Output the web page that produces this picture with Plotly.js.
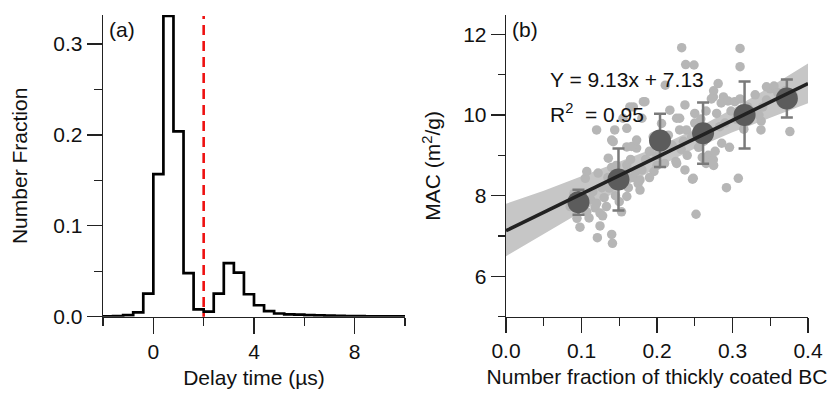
<!DOCTYPE html>
<html>
<head>
<meta charset="utf-8">
<script src="https://cdn.plot.ly/plotly-3.0.1.min.js"></script>
<style>html,body{margin:0;padding:0;background:#fff;}#chart{width:834px;height:395px;}</style>
</head>
<body>
<div id="chart"></div>
<script>
// ---------- Panel (a): delay time histogram ----------
const binEdges = [-2.0,-1.6,-1.2,-0.8,-0.4,0.0,0.4,0.8,1.2,1.6,2.0,2.4,2.8,3.2,3.6,4.0,4.4,4.8,5.2,5.6,6.0,6.4,6.8,7.2,7.6,8.0,8.4,8.8,9.2,9.6,10.0];
const binFraction = [0.0004,0.0006,0.0018,0.0048,0.0255,0.157,0.331,0.204,0.048,0.008,0.0055,0.0255,0.059,0.0486,0.0247,0.0126,0.0062,0.0035,0.0026,0.0022,0.0018,0.0014,0.0011,0.0009,0.0007,0.0006,0.0005,0.0004,0.0004,0.0003];
const thresholdX = 2.0;

// ---------- Panel (b): MAC vs number fraction ----------
const scatterX = [0.085,0.094,0.098,0.105,0.107,0.107,0.112,0.115,0.118,0.120,0.121,0.1245,0.1245,0.122,0.127,0.130,0.133,0.090,0.100,0.110,0.128,
  0.1355,0.140,0.141,0.142,0.137,0.140,0.145,0.150,0.153,0.155,0.158,0.160,0.160,0.162,0.165,0.168,0.172,0.173,0.175,0.1775,0.1775,0.180,0.120,0.140,0.144,0.155,0.160,0.160,0.164,0.1665,0.1686,0.173,0.180,0.182,0.184,0.146,0.135,
  0.185,0.190,0.195,0.196,0.200,0.204,0.206,0.210,0.211,0.215,0.217,0.220,0.225,0.226,0.226,0.230,0.230,0.232,0.2327,0.235,0.237,0.237,0.238,0.239,0.200,0.190,0.240,0.249,
  0.246,0.247,0.248,0.250,0.250,0.2517,0.255,0.258,0.262,0.265,0.268,0.270,0.2746,0.2746,0.275,0.275,0.277,0.279,0.281,0.283,0.285,0.2857,0.288,0.292,0.294,0.296,0.298,0.260,0.265,0.272,0.290,
  0.303,0.3077,0.310,0.310,0.305,0.310,0.315,0.320,0.325,0.330,0.3377,0.338,0.340,0.345,0.345,0.350,0.355,0.360,0.365,0.370,0.376,0.380,0.335];
const scatterY = [7.73,7.44,7.22,8.43,7.60,8.60,7.90,8.10,7.70,7.81,6.96,7.25,7.57,8.56,8.20,7.95,7.73,8.05,7.85,7.45,7.50,
  8.93,7.04,6.82,9.34,8.19,8.70,8.00,7.85,7.60,8.30,8.55,8.76,7.98,8.20,8.90,8.45,8.60,9.18,8.30,8.39,8.14,8.64,9.63,9.38,9.63,9.92,9.67,9.21,10.20,9.22,10.20,9.38,9.92,10.33,10.33,8.75,8.45,
  8.90,9.10,9.46,8.60,9.00,9.05,9.79,8.80,10.74,9.50,10.12,9.25,8.85,8.80,9.92,9.63,9.92,9.15,11.67,9.35,8.64,10.25,11.25,9.63,8.75,8.45,9.00,11.24,
  9.46,8.41,8.43,10.04,9.80,7.54,9.20,9.90,9.35,10.10,9.00,9.60,8.89,10.45,8.75,10.60,9.10,10.04,10.78,9.71,10.30,9.30,10.45,8.20,10.35,9.20,10.10,8.95,8.80,10.40,9.80,
  10.33,8.43,11.65,11.20,9.90,10.40,9.65,10.20,10.10,10.50,9.63,9.85,10.20,10.70,10.37,10.65,10.72,10.55,10.30,10.60,9.59,10.50,10.00];

const meanX = [0.096,0.149,0.204,0.261,0.316,0.372];
const meanY = [7.84,8.40,9.37,9.55,10.00,10.41];
const meanErr = [0.31,0.77,0.66,0.76,0.83,0.47];

const slope = 9.13, intercept = 7.13;
const fitX = [0.0, 0.4];
const fitY = [7.13, 10.78];
const bandX = [0.00,0.05,0.10,0.15,0.20,0.25,0.30,0.35,0.40];
const bandLow = [6.50,7.05,7.58,8.15,8.70,9.17,9.57,9.93,10.29];
const bandHigh = [7.80,8.12,8.48,8.83,9.20,9.65,10.15,10.70,11.28];

// ----- build traces -----
const histY = binFraction.concat([binFraction[binFraction.length-1]]);
const FONT = {family: '"Liberation Sans", Arial, sans-serif', size: 21, color: '#111'};

const traces = [
  {x: binEdges, y: histY, type: 'scatter', mode: 'lines', line: {shape: 'hv', color: '#000', width: 2.7},
   xaxis: 'x', yaxis: 'y', hoverinfo: 'skip'},
  {x: [thresholdX, thresholdX], y: [-0.007, 0.331], type: 'scatter', mode: 'lines', line: {color: '#ee1111', width: 2.6, dash: '10px,6px'},
   xaxis: 'x', yaxis: 'y', cliponaxis: false},
  {x: bandX.concat(bandX.slice().reverse()), y: bandLow.concat(bandHigh.slice().reverse()), type: 'scatter', mode: 'lines',
   fill: 'toself', fillcolor: '#c6c6c6', line: {width: 0, color: 'rgba(0,0,0,0)'}, xaxis: 'x2', yaxis: 'y2'},
  {x: scatterX, y: scatterY, type: 'scatter', mode: 'markers', marker: {size: 9.5, color: '#b6b6b6'}, xaxis: 'x2', yaxis: 'y2'},
  {x: meanX, y: meanY, type: 'scatter', mode: 'markers', marker: {size: 22, color: '#5c5c5c'},
   error_y: {type: 'data', array: meanErr, visible: true, color: '#7a7a7a', thickness: 2.5, width: 6}, xaxis: 'x2', yaxis: 'y2'},
  {x: fitX, y: fitY, type: 'scatter', mode: 'lines', line: {color: '#222', width: 3.5}, xaxis: 'x2', yaxis: 'y2'}
];

const axBase = {showgrid: false, zeroline: false, showline: true, linecolor: '#222', linewidth: 1.3,
  ticks: 'outside', tickcolor: '#222', tickwidth: 1.3, tickfont: FONT, automargin: false, fixedrange: true};

const layout = {
  width: 834, height: 395, margin: {l: 0, r: 0, t: 0, b: 0},
  paper_bgcolor: '#fff', plot_bgcolor: '#fff', showlegend: false, font: FONT,
  xaxis: Object.assign({}, axBase, {domain: [103/834, 405/834], range: [-2, 10], anchor: 'y',
    tickvals: [0, 4, 8], ticklen: 16,
    minor: {tickvals: [-2, 2, 6, 10], ticklen: 8, tickcolor: '#222', tickwidth: 1.3, ticks: 'outside'},
    title: {text: 'Delay time (µs)', font: FONT, standoff: 8}}),
  yaxis: Object.assign({}, axBase, {domain: [78.3/395, 380/395], range: [0, 0.332], anchor: 'x',
    tickvals: [0, 0.1, 0.2, 0.3], ticktext: ['0.0', '0.1', '0.2', '0.3'], ticklen: 15,
    minor: {tickvals: [0.05, 0.15, 0.25], ticklen: 8, tickcolor: '#222', tickwidth: 1.3, ticks: 'outside'},
    title: {text: 'Number Fraction', font: FONT, standoff: 20}}),
  xaxis2: Object.assign({}, axBase, {domain: [506/834, 808/834], range: [0, 0.4], anchor: 'y2',
    tickvals: [0, 0.1, 0.2, 0.3, 0.4], ticktext: ['0.0', '0.1', '0.2', '0.3', '0.4'], ticklen: 15,
    minor: {tickvals: [0.05, 0.15, 0.25, 0.35], ticklen: 8, tickcolor: '#222', tickwidth: 1.3, ticks: 'outside'},
    title: {text: 'Number fraction of thickly coated BC', font: FONT, standoff: 8}}),
  yaxis2: Object.assign({}, axBase, {domain: [78.3/395, 380/395], range: [5, 12.48], anchor: 'x2',
    tickvals: [6, 8, 10, 12], ticklen: 14,
    minor: {tickvals: [5, 7, 9, 11], ticklen: 7, tickcolor: '#222', tickwidth: 1.3, ticks: 'outside'},
    title: {text: 'MAC (m<sup>2</sup>/g)', font: FONT, standoff: 16}}),
  annotations: [
    {text: '(a)', xref: 'paper', yref: 'paper', x: 107/834, y: (395-30)/395, xanchor: 'left', yanchor: 'middle', showarrow: false, font: FONT},
    {text: '(b)', xref: 'paper', yref: 'paper', x: 510/834, y: (395-30)/395, xanchor: 'left', yanchor: 'middle', showarrow: false, font: FONT},
    {text: 'Y = ' + slope.toFixed(2) + 'x + ' + intercept.toFixed(2), xref: 'paper', yref: 'paper', x: 548/834, y: (395-80)/395,
     xanchor: 'left', yanchor: 'middle', showarrow: false, font: FONT},
    {text: 'R<sup>2</sup>  = 0.95', xref: 'paper', yref: 'paper', x: 548/834, y: (395-113)/395,
     xanchor: 'left', yanchor: 'middle', showarrow: false, font: FONT}
  ]
};

Plotly.newPlot('chart', traces, layout, {staticPlot: true, displayModeBar: false});
</script>
</body>
</html>
